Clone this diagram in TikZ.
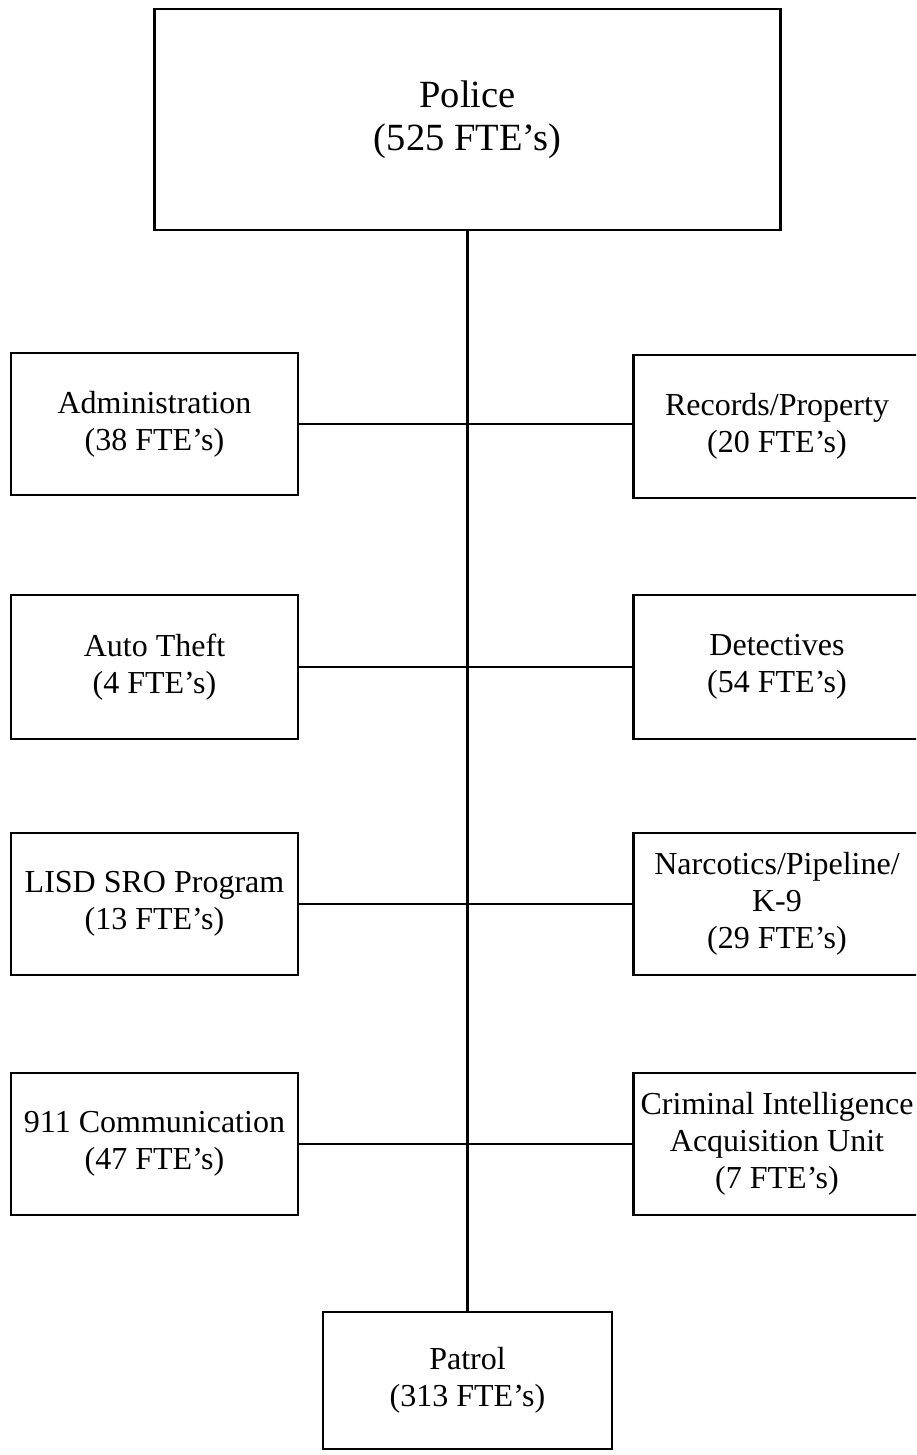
\documentclass[tikz,border=0pt]{standalone}
\usepackage{fontspec}
\setmainfont{Liberation Serif}
\begin{document}
\begin{tikzpicture}[x=1pt,y=-1pt,
  line width=2.8pt,
  orgbox/.style={draw, rectangle, align=center, inner sep=0pt,
    font=\fontsize{32}{37}\selectfont},
  sidebox/.style={orgbox, minimum width=287pt, minimum height=142pt},
  topbox/.style={orgbox, minimum width=626pt, minimum height=221pt,
    font=\fontsize{38.5}{43}\selectfont},
  link/.style={draw, line width=2.8pt}]
\useasboundingbox (0,0) rectangle (916,1455);
\clip (0,0) rectangle (916,1455);

% head of the department
\node[topbox] (police) at (467.5,119.5) {Police\\(525 FTE's)};

% left column of units
\node[sidebox] (admin) at (154.5,424) {Administration\\(38 FTE's)};
\node[sidebox, minimum height=144pt] (auto) at (154.5,667) {Auto Theft\\(4 FTE's)};
\node[sidebox] (lisd) at (154.5,904) {LISD SRO Program\\(13 FTE's)};
\node[sidebox] (comm) at (154.5,1144) {911 Communication\\(47 FTE's)};

% right column of units
\node[sidebox, minimum height=143pt] (records) at (777,426.5) {Records/Property\\(20 FTE's)};
\node[sidebox, minimum height=144pt] (detect) at (777,667) {Detectives\\(54 FTE's)};
\node[sidebox] (narc) at (777,904) {Narcotics/Pipeline/\\K-9\\(29 FTE's)};
\node[sidebox] (crim) at (777,1144) {Criminal Intelligence\\Acquisition Unit\\(7 FTE's)};

% patrol at the foot
\node[orgbox, minimum width=289pt, minimum height=137pt] (patrol) at (467.5,1380.5) {Patrol\\(313 FTE's)};

% spine and branches
\path[link] (police.south) -- (patrol.north);
\path[link] (admin.east) -- (admin.east -| records.west);
\path[link] (auto.east) -- (auto.east -| detect.west);
\path[link] (lisd.east) -- (lisd.east -| narc.west);
\path[link] (comm.east) -- (comm.east -| crim.west);
\end{tikzpicture}
\end{document}
